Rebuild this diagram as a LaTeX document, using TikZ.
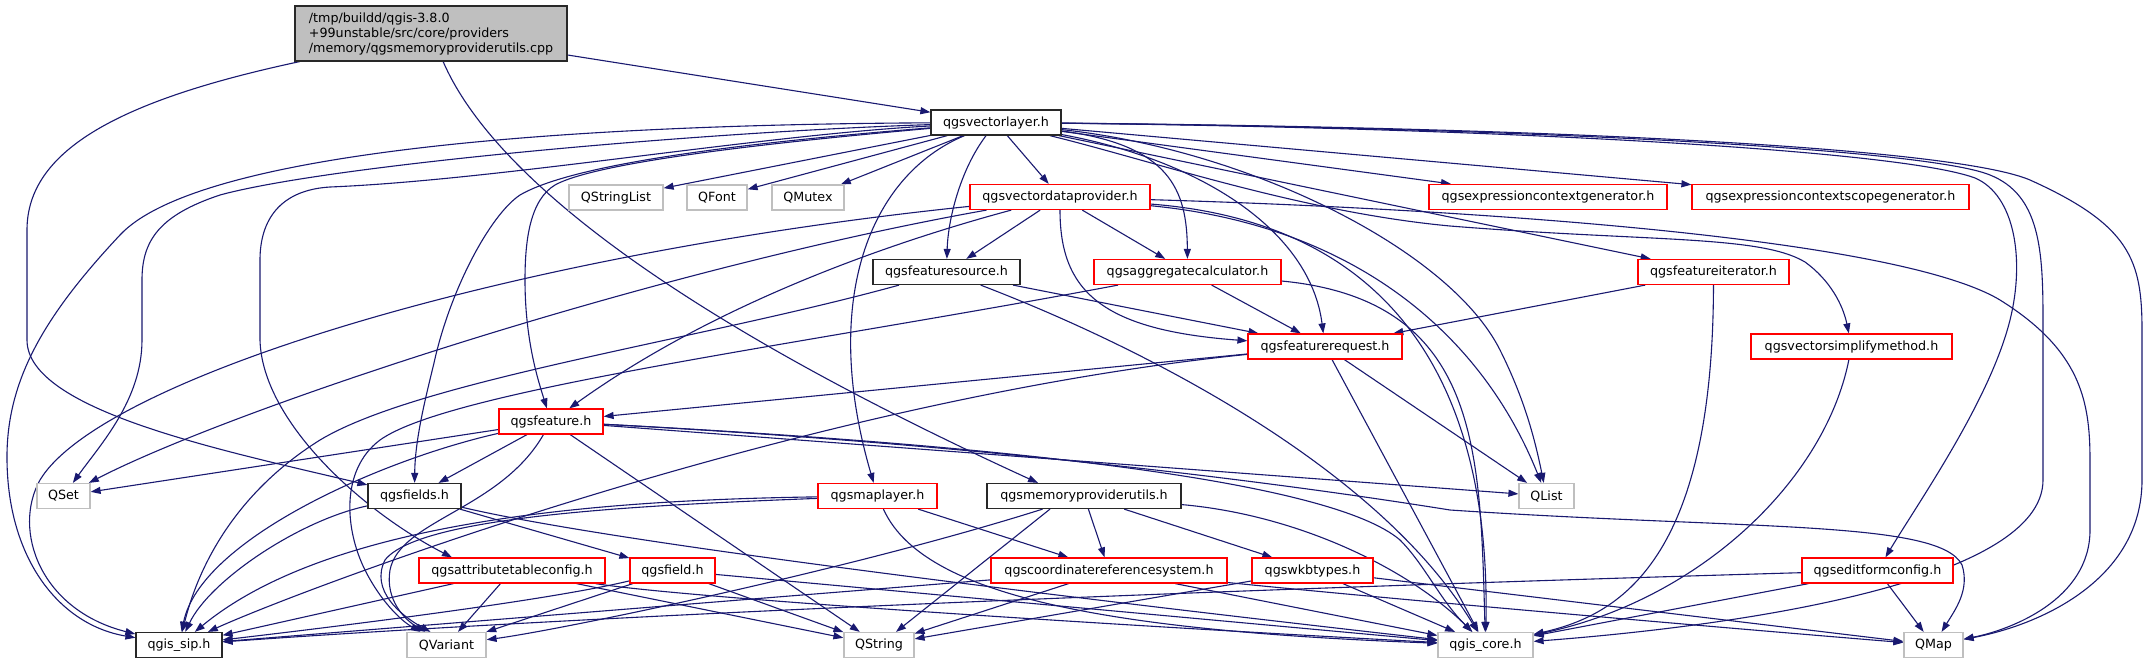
\documentclass[tikz,border=0pt]{standalone}
\usepackage{fontspec}
\setmainfont{DejaVu Sans}
\usetikzlibrary{arrows.meta}
\definecolor{edgec}{RGB}{25,25,112}
\definecolor{grayb}{RGB}{191,191,191}
\definecolor{rootfill}{RGB}{191,191,191}
\definecolor{redb}{RGB}{255,0,0}
\definecolor{blkb}{RGB}{40,40,40}
\pgfdeclarelayer{bg}
\pgfsetlayers{bg,main}
\begin{document}
\begin{tikzpicture}[x=1pt,y=-1pt,
  box/.style={draw, fill=white, inner sep=0pt, minimum height=25pt, line width=1.2pt, font=\fontsize{12.7}{15}\selectfont, text=black},
  kbox/.style={box, draw=blkb},
  rbox/.style={box, draw=redb},
  gbox/.style={box, draw=grayb},
  e/.style={draw=edgec, line width=1.1pt, -{Triangle[length=10pt,width=7pt]}}
]
\useasboundingbox (0,0) rectangle (2148,664);
% nodes
\node[box, draw=blkb, fill=rootfill, minimum width=272pt, minimum height=55pt, align=left] (root) at (431,33.5)
  {/tmp/buildd/qgis-3.8.0\\+99unstable/src/core/providers\\/memory/qgsmemoryproviderutils.cpp};
\node[kbox, minimum width=130pt] (vl) at (996,122.5) {qgsvectorlayer.h};
\node[gbox, minimum width=94pt] (qsl) at (616,197.5) {QStringList};
\node[gbox, minimum width=60pt] (qfont) at (717,197.5) {QFont};
\node[gbox, minimum width=72pt] (qmutex) at (808,197.5) {QMutex};
\node[rbox, minimum width=180pt] (vdp) at (1060,197) {qgsvectordataprovider.h};
\node[rbox, minimum width=238pt] (ecg) at (1548,197) {qgsexpressioncontextgenerator.h};
\node[rbox, minimum width=277pt] (ecsg) at (1830.5,197) {qgsexpressioncontextscopegenerator.h};
\node[kbox, minimum width=147pt] (fs) at (946.5,272) {qgsfeaturesource.h};
\node[rbox, minimum width=187pt] (agg) at (1187.5,272) {qgsaggregatecalculator.h};
\node[rbox, minimum width=151pt] (fi) at (1713.5,272) {qgsfeatureiterator.h};
\node[rbox, minimum width=154pt] (freq) at (1325,346.5) {qgsfeaturerequest.h};
\node[rbox, minimum width=201pt] (vsm) at (1851.5,346.5) {qgsvectorsimplifymethod.h};
\node[rbox, minimum width=104pt] (feat) at (551,421.5) {qgsfeature.h};
\node[gbox, minimum width=53pt] (qset) at (63.5,496) {QSet};
\node[kbox, minimum width=93pt] (fields) at (414.5,496) {qgsfields.h};
\node[rbox, minimum width=119pt] (ml) at (877.5,496) {qgsmaplayer.h};
\node[kbox, minimum width=194pt] (mpu) at (1084,496) {qgsmemoryproviderutils.h};
\node[gbox, minimum width=55pt] (qlist) at (1546.5,496) {QList};
\node[rbox, minimum width=186pt] (atc) at (512,570.5) {qgsattributetableconfig.h};
\node[rbox, minimum width=85pt] (field) at (672.5,570.5) {qgsfield.h};
\node[rbox, minimum width=236pt] (crs) at (1109,570.5) {qgscoordinatereferencesystem.h};
\node[rbox, minimum width=121pt] (wkb) at (1312.5,570.5) {qgswkbtypes.h};
\node[rbox, minimum width=151pt] (efc) at (1877.5,570.5) {qgseditformconfig.h};
\node[kbox, minimum width=86pt] (sip) at (179,645) {qgis\_sip.h};
\node[gbox, minimum width=79pt] (qvar) at (446.5,645) {QVariant};
\node[gbox, minimum width=70pt] (qstr) at (879,645) {QString};
\node[gbox, minimum width=95pt] (core) at (1485.5,645) {qgis\_core.h};
\node[gbox, minimum width=59pt] (qmap) at (1933.5,645) {QMap};

\begin{pgfonlayer}{bg}
\fill[white] (0,0) rectangle (2148,664);
% root
\draw[e] (root) -- (vl);
\draw[e] (root) .. controls (120,100) and (27,150) .. (27,230) -- (27,340) .. controls (27,410) and (220,450) .. (fields);
\draw[e] (root) .. controls (490,170) and (660,310) .. ([xshift=-46pt]mpu.north);
% vectorlayer
\draw[e] (vl) -- (qsl);
\draw[e] (vl) -- (qfont);
\draw[e] (vl) -- (qmutex);
\draw[e] (vl) -- (vdp);
\draw[e] (vl) -- (ecg);
\draw[e] (vl) -- (ecsg);
\draw[e] (vl) .. controls (960,170) and (948,220) .. (fs);
\draw[e] (vl) .. controls (870,175) and (820,300) .. (ml);
\draw[e] (vl) .. controls (1170,145) and (1187,190) .. (agg);
\draw[e] (vl) .. controls (1200,160) and (1310,230) .. (freq);
\draw[e] (vl) -- (fi);
\draw[e] (vl) .. controls (1150,160) and (1300,212) .. (1450,226) .. controls (1650,242) and (1760,235) .. (1805,262) .. controls (1830,280) and (1843,305) .. (vsm);
\draw[e] (vl) .. controls (800,140) and (600,160) .. (555,185) .. controls (530,200) and (525,240) .. (525,280) .. controls (525,340) and (538,380) .. (feat);
\draw[e] (vl) .. controls (780,140) and (580,160) .. (520,195) .. controls (490,215) and (450,290) .. (434,363) .. controls (425,400) and (415,440) .. (fields);
\draw[e] (vl) .. controls (760,135) and (500,180) .. (330,187) .. controls (280,190) and (260,220) .. (260,260) -- (260,340) .. controls (262,420) and (360,510) .. ([xshift=-60pt]atc.north);
\draw[e] (vl) .. controls (700,132) and (330,165) .. (220,195) .. controls (160,215) and (142,240) .. (142,280) -- (142,340) .. controls (142,400) and (100,445) .. (qset);
\draw[e] (vl) .. controls (500,125) and (190,160) .. (120,235) .. controls (45,315) and (6,380) .. (7,460) .. controls (8,560) and (60,625) .. (sip);
\draw[e] (vl) .. controls (1250,150) and (1450,250) .. (1500,350) .. controls (1525,400) and (1535,440) .. (qlist);
\draw[e] (vl) .. controls (1500,128) and (1900,150) .. (1975,178) .. controls (2015,195) and (2025,260) .. (2010,320) .. controls (1990,400) and (1920,500) .. (efc);
\draw[e] (vl) .. controls (1550,128) and (1930,150) .. (1990,175) .. controls (2040,195) and (2043,250) .. (2043,320) -- (2043,480) .. controls (2043,580) and (1750,625) .. (core);
\draw[e] (vl) .. controls (1600,128) and (1960,150) .. (2030,180) .. controls (2130,225) and (2142,260) .. (2142,330) -- (2142,480) .. controls (2142,580) and (2040,625) .. (qmap);
% vectordataprovider
\draw[e] (vdp) -- (fs);
\draw[e] (vdp) -- (agg);
\draw[e] (vdp) .. controls (1060,290) and (1100,330) .. (freq);
\draw[e] (vdp) .. controls (900,240) and (720,300) .. (feat);
\draw[e] (vdp) .. controls (500,255) and (100,380) .. (40,480) .. controls (12,530) and (40,610) .. (sip);
\draw[e] (vdp) .. controls (650,270) and (230,410) .. (qset);
\draw[e] (vdp) .. controls (1350,225) and (1480,330) .. (qlist);
\draw[e] (vdp) .. controls (1420,225) and (1490,420) .. (core);
\draw[e] (vdp) .. controls (1500,210) and (1900,240) .. (2000,300) .. controls (2080,350) and (2090,400) .. (2090,460) -- (2090,530) .. controls (2090,600) and (2010,630) .. (qmap);
% featuresource
\draw[e] (fs) -- (freq);
\draw[e] (fs) .. controls (1150,350) and (1380,470) .. (core);
\draw[e] (fs) .. controls (700,340) and (420,380) .. (320,440) .. controls (240,490) and (200,560) .. (sip);
% aggregatecalculator
\draw[e] (agg) -- (freq);
\draw[e] (agg) .. controls (1480,300) and (1480,450) .. (core);
\draw[e] (agg) .. controls (800,345) and (450,390) .. (380,440) .. controls (340,470) and (345,530) .. (365,570) .. controls (380,600) and (400,620) .. ([xshift=-26pt]qvar.north);
% featureiterator, simplify
\draw[e] (fi) -- (freq);
\draw[e] (fi) .. controls (1713,560) and (1620,615) .. (core);
\draw[e] (vsm) .. controls (1825,480) and (1700,600) .. (core);
% featurerequest
\draw[e] (freq) -- (feat);
\draw[e] (freq) .. controls (800,400) and (300,590) .. (sip);
\draw[e] (freq) -- (qlist);
\draw[e] (freq) -- (core);
% feature
\draw[e] (feat) -- (qset);
\draw[e] (feat) -- (fields);
\draw[e] (feat) .. controls (380,460) and (200,540) .. (sip);
\draw[e] (feat) .. controls (500,510) and (400,520) .. (390,570) .. controls (385,600) and (405,620) .. ([xshift=-21pt]qvar.north);
\draw[e] (feat) -- (qstr);
\draw[e] (feat) -- (qlist);
\draw[e] (feat) .. controls (1000,445) and (1330,480) .. (1400,540) .. controls (1425,565) and (1440,600) .. (core);
\draw[e] (feat) .. controls (900,440) and (1200,470) .. (1450,510) .. controls (1750,530) and (1940,520) .. (1962,565) .. controls (1970,590) and (1955,610) .. (qmap);
% fields, field, attributetableconfig
\draw[e] (fields) .. controls (300,520) and (210,580) .. (sip);
\draw[e] (fields) -- (field);
\draw[e] (fields) .. controls (600,540) and (1000,590) .. (core);
\draw[e] (field) .. controls (550,600) and (350,625) .. (sip);
\draw[e] (field) -- (qvar);
\draw[e] (field) -- (qstr);
\draw[e] (field) -- (core);
\draw[e] (atc) -- (sip);
\draw[e] (atc) -- (qvar);
\draw[e] (atc) -- (qstr);
\draw[e] (atc) .. controls (700,600) and (1200,630) .. (core);
% maplayer
\draw[e] (ml) .. controls (600,500) and (330,520) .. (sip);
\draw[e] (ml) .. controls (650,505) and (420,515) .. (385,560) .. controls (370,590) and (400,615) .. ([xshift=-16pt]qvar.north);
\draw[e] (ml) -- (crs);
\draw[e] (ml) .. controls (920,590) and (1080,630) .. (core);
% memoryproviderutils
\draw[e] (mpu) .. controls (850,570) and (560,630) .. (qvar);
\draw[e] ([xshift=-34pt]mpu.south) -- ([xshift=17pt]qstr.north);
\draw[e] (mpu) -- (crs);
\draw[e] (mpu) -- (wkb);
\draw[e] (mpu) .. controls (1300,515) and (1410,570) .. (core);
% crs, wkb, editformconfig
\draw[e] (crs) -- (sip);
\draw[e] (crs) -- (qstr);
\draw[e] (crs) -- (core);
\draw[e] (crs) .. controls (1400,600) and (1750,630) .. (qmap);
\draw[e] (wkb) -- (qstr);
\draw[e] (wkb) -- (core);
\draw[e] (wkb) -- (qmap);
\draw[e] (efc) .. controls (1200,590) and (600,615) .. (sip);
\draw[e] (efc) -- (core);
\draw[e] (efc) -- (qmap);
\end{pgfonlayer}
\end{tikzpicture}
\end{document}
